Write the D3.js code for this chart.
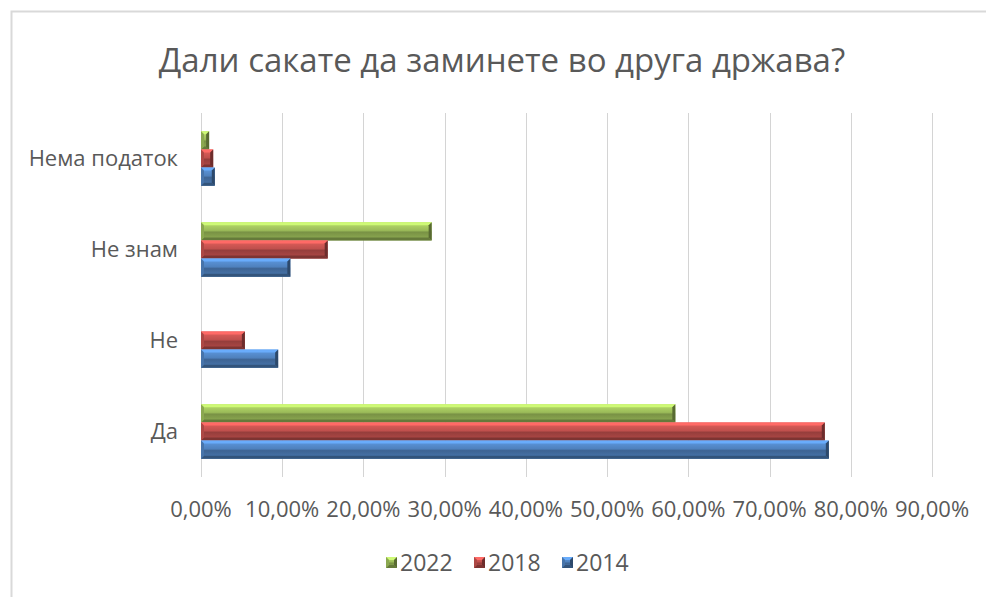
<!DOCTYPE html>
<html>
<head>
<meta charset="UTF-8">
<title>Дали сакате да заминете во друга држава?</title>
<script src="https://cdn.jsdelivr.net/npm/d3@7"></script>
<style>
  body { margin: 0; background: #fff; }
  text { font-family: "Open Sans", "DejaVu Sans", sans-serif; fill: #595959; }
</style>
</head>
<body>
<div id="chart"></div>
<script>

// data (percent)
var categories = ["Нема податок", "Не знам", "Не", "Да"]
var years      = ["2022", "2018", "2014"]
var v2022 = [1.0, 28.4, 0, 58.4]
var v2018 = [1.5, 15.6, 5.4, 76.8]
var v2014 = [1.7, 11.0, 9.5, 77.3]
var ticks = [0, 10, 20, 30, 40, 50, 60, 70, 80, 90]

var colors = { "2022": "#9bbb59", "2018": "#c0504d", "2014": "#4f81bd" }
var series = { "2022": v2022, "2018": v2018, "2014": v2014 }

var width = 986, height = 597
var plotLeft = 201, plotRight = 932, plotTop = 113, plotBottom = 477

var svg = d3.select("#chart").append("svg")
  .attr("width", width).attr("height", height)

var defs = svg.append("defs")
years.forEach(function(y) {
  var c = d3.color(colors[y])
  var g = defs.append("linearGradient").attr("id", "g" + y)
    .attr("x1", 0).attr("y1", 0).attr("x2", 0).attr("y2", 1)
  g.append("stop").attr("offset", "0%").attr("stop-color", c.brighter(0.5))
  g.append("stop").attr("offset", "45%").attr("stop-color", c)
  g.append("stop").attr("offset", "55%").attr("stop-color", c.darker(0.7))
  g.append("stop").attr("offset", "100%").attr("stop-color", c.darker(0.2))
})

// chart frame (only top and left edges show)
svg.append("path").attr("d", "M11.5," + height + "V11.5H" + width)
  .attr("fill", "none").attr("stroke", "#d9d9d9").attr("stroke-width", 2)

svg.append("text").attr("x", 502).attr("y", 72)
  .attr("text-anchor", "middle").attr("font-size", 33)
  .text("Дали сакате да заминете во друга држава?")

var x = d3.scaleLinear().domain([0, 90]).range([plotLeft, plotRight])
var y0 = d3.scaleBand().domain(categories).range([plotTop, plotBottom]).paddingInner(0.4).paddingOuter(0.2)
var y1 = d3.scaleBand().domain(years).range([0, y0.bandwidth()])

// gridlines
svg.append("g").selectAll("line").data(ticks).enter().append("line")
  .attr("x1", function(d) { return Math.round(x(d)) + 0.5 })
  .attr("x2", function(d) { return Math.round(x(d)) + 0.5 })
  .attr("y1", plotTop).attr("y2", plotBottom)
  .attr("stroke", "#d4d4d4").attr("stroke-width", 1)

// tick labels
svg.append("g").selectAll("text").data(ticks).enter().append("text")
  .attr("x", function(d) { return x(d) }).attr("y", 517)
  .attr("text-anchor", "middle").attr("font-size", 22)
  .text(function(d) { return d.toFixed(2).replace(".", ",") + "%" })

// category labels
svg.append("g").selectAll("text").data(categories).enter().append("text")
  .attr("x", 178).attr("y", function(d) { return y0(d) + y0.bandwidth() / 2 + 7 })
  .attr("text-anchor", "end").attr("font-size", 22)
  .text(function(d) { return d })

// bevelled bar
function bevel(g, x0, y, w, h, col, grad) {
  var c = d3.color(col)
  var b = Math.min(3, w / 2)
  g.append("rect").attr("x", x0).attr("y", y).attr("width", w).attr("height", h)
    .attr("fill", "url(#" + grad + ")")
  var x1 = x0 + w, y2 = y + h
  g.append("path").attr("d", "M" + x0 + "," + y + "H" + x1 + "L" + (x1 - b) + "," + (y + b) + "H" + (x0 + b) + "Z")
    .attr("fill", c.brighter(0.8))
  g.append("path").attr("d", "M" + x0 + "," + y2 + "H" + x1 + "L" + (x1 - b) + "," + (y2 - b) + "H" + (x0 + b) + "Z")
    .attr("fill", c.darker(1.2))
  g.append("path").attr("d", "M" + x0 + "," + y + "L" + (x0 + b) + "," + (y + b) + "V" + (y2 - b) + "L" + x0 + "," + y2 + "Z")
    .attr("fill", c.darker(0.3))
  g.append("path").attr("d", "M" + x1 + "," + y + "L" + (x1 - b) + "," + (y + b) + "V" + (y2 - b) + "L" + x1 + "," + y2 + "Z")
    .attr("fill", c.darker(1.6))
}

var bars = svg.append("g")
categories.forEach(function(cat, i) {
  years.forEach(function(yr) {
    var v = series[yr][i]
    if (v <= 0) return
    bevel(bars, x(0), y0(cat) + y1(yr), x(v) - x(0), y1.bandwidth(), colors[yr], "g" + yr)
  })
})

// legend
var legendX = [386, 474, 562]
var legend = svg.append("g")
years.forEach(function(yr, i) {
  bevel(legend, legendX[i], 557, 11, 11, colors[yr], "g" + yr)
  legend.append("text").attr("x", legendX[i] + 14).attr("y", 571)
    .attr("font-size", 23).text(yr)
})

</script>
</body>
</html>
